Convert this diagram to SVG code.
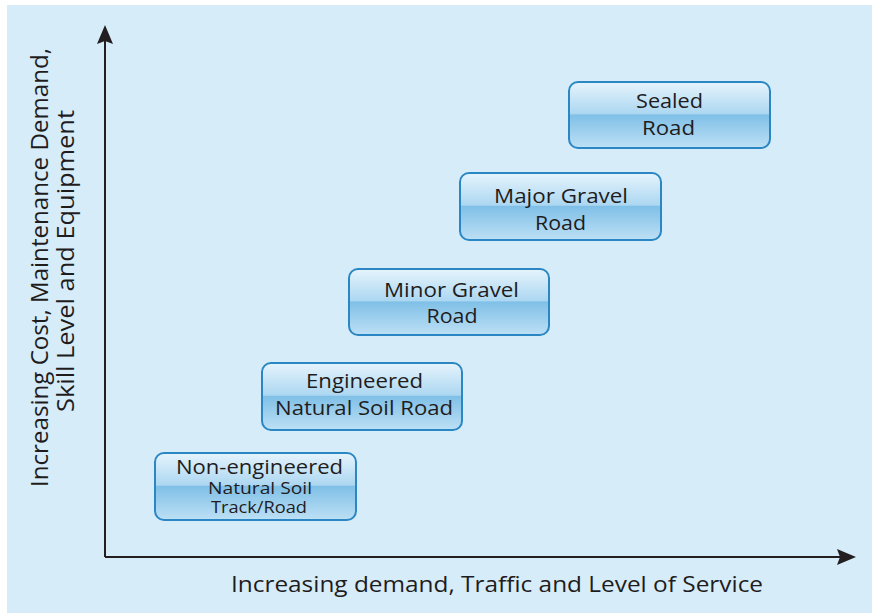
<svg xmlns="http://www.w3.org/2000/svg" width="872" height="613" viewBox="0 0 872 613">
<style>
.lbl{font-family:"Open Sans","Liberation Sans",sans-serif;fill:#1f1c1d;text-anchor:middle}
.box{fill:url(#g);stroke:#2a87c4;stroke-width:2}
.ax{stroke:#231f20;stroke-width:2;fill:none}
</style>
<defs>
<linearGradient id="g" x1="0" y1="0" x2="0" y2="1">
<stop offset="0" stop-color="#e6f4fc"/>
<stop offset="0.48" stop-color="#acd7f1"/>
<stop offset="0.5" stop-color="#80c0e7"/>
<stop offset="1" stop-color="#bde0f5"/>
</linearGradient>
</defs>
<rect x="0" y="0" width="872" height="613" fill="#ffffff"/>
<rect x="7" y="5" width="865" height="608" fill="#d6ecf9"/>
<g id="axes">
<path class="ax" d="M105,557 V28"/>
<path d="M105,25 L113,44 L105,41 L97,44 Z" fill="#231f20"/>
<path class="ax" d="M105,557 H852"/>
<path d="M856,557 L837,549 L840,557 L837,565 Z" fill="#231f20"/>
</g>
<text class="lbl" x="497" y="592" font-size="22" textLength="532" lengthAdjust="spacingAndGlyphs">Increasing demand, Traffic and Level of Service</text>
<g transform="translate(0,263) rotate(-90)">
<text class="lbl" x="-4.5" y="48" font-size="23" textLength="439" lengthAdjust="spacingAndGlyphs">Increasing Cost, Maintenance Demand,</text>
<text class="lbl" x="2" y="74" font-size="23" textLength="302" lengthAdjust="spacingAndGlyphs">Skill Level and Equipment</text>
</g>
<g id="n1">
<rect class="box" x="155" y="453" width="201" height="67" rx="9"/>
<text class="lbl" x="259.5" y="474" font-size="20" textLength="167" lengthAdjust="spacingAndGlyphs">Non-engineered</text>
<text class="lbl" x="260" y="494" font-size="17" textLength="104" lengthAdjust="spacingAndGlyphs">Natural Soil</text>
<text class="lbl" x="259" y="513" font-size="17" textLength="96" lengthAdjust="spacingAndGlyphs">Track/Road</text>
</g>
<g id="n2">
<rect class="box" x="262" y="363" width="200" height="67" rx="9"/>
<text class="lbl" x="364.5" y="388" font-size="20" textLength="117" lengthAdjust="spacingAndGlyphs">Engineered</text>
<text class="lbl" x="364" y="415" font-size="20" textLength="178" lengthAdjust="spacingAndGlyphs">Natural Soil Road</text>
</g>
<g id="n3">
<rect class="box" x="349" y="269" width="200" height="66" rx="9"/>
<text class="lbl" x="451.5" y="297" font-size="20" textLength="135" lengthAdjust="spacingAndGlyphs">Minor Gravel</text>
<text class="lbl" x="452" y="323" font-size="20" textLength="51" lengthAdjust="spacingAndGlyphs">Road</text>
</g>
<g id="n4">
<rect class="box" x="460" y="173" width="201" height="67" rx="9"/>
<text class="lbl" x="561" y="203" font-size="20" textLength="134" lengthAdjust="spacingAndGlyphs">Major Gravel</text>
<text class="lbl" x="560.5" y="230" font-size="20" textLength="51" lengthAdjust="spacingAndGlyphs">Road</text>
</g>
<g id="n5">
<rect class="box" x="569" y="82" width="201" height="66" rx="9"/>
<text class="lbl" x="669.5" y="108" font-size="20" textLength="67" lengthAdjust="spacingAndGlyphs">Sealed</text>
<text class="lbl" x="668.5" y="135" font-size="20" textLength="53" lengthAdjust="spacingAndGlyphs">Road</text>
</g>
</svg>
